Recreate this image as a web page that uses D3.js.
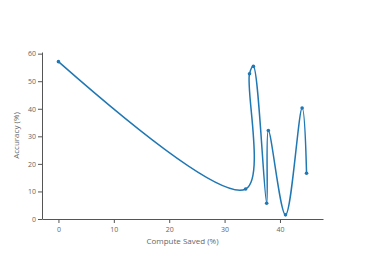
<!DOCTYPE html>
<html>
<head>
<meta charset="utf-8">
<script src="https://cdn.jsdelivr.net/npm/d3@7"></script>
<style>
  body { margin: 0; background: #fff; }
  text { font-family: "Open Sans", verdana, arial, sans-serif; fill: #666; }
</style>
</head>
<body>
<div id="chart"></div>
<script>
// data
const computeSaved = [0, 33.8, 34.5, 35.2, 37.6, 37.9, 41.0, 44.0, 44.8]
const accuracy = [57.1, 10.9, 52.7, 55.4, 5.7, 32.1, 1.5, 40.3, 16.6]
const xTicks = [0, 10, 20, 30, 40]
const yTicks = [0, 10, 20, 30, 40, 50, 60]

const width = 366, height = 261
const margin = {left: 42, right: 43, top: 52, bottom: 42}

const svg = d3.select("#chart")
  .append("svg")
    .attr("width", width)
    .attr("height", height)

const x = d3.scaleLinear()
  .domain([-2.97, 47.77])
  .range([margin.left, width - margin.right])

const y = d3.scaleLinear()
  .domain([0, 60.6])
  .range([height - margin.bottom, margin.top])

// axes
const xAxis = svg.append("g")
  .attr("transform", `translate(0,${height - margin.bottom})`)
  .call(d3.axisBottom(x).tickValues(xTicks).tickSize(4).tickPadding(4).tickSizeOuter(0))
const yAxis = svg.append("g")
  .attr("transform", `translate(${margin.left},0)`)
  .call(d3.axisLeft(y).tickValues(yTicks).tickSize(4).tickPadding(2).tickSizeOuter(0))

;[xAxis, yAxis].forEach(a => {
  a.select(".domain").attr("stroke", "#555").attr("stroke-width", 1)
  a.selectAll(".tick line").attr("stroke", "#555")
  a.selectAll(".tick text").style("font-size", "7px").attr("fill", "#666")
})

// axis titles
svg.append("text")
  .attr("x", (margin.left + width - margin.right) / 2)
  .attr("y", 244)
  .attr("text-anchor", "middle")
  .style("font-size", "8px")
  .text("Compute Saved (%)")

svg.append("text")
  .attr("transform", `translate(19,${(margin.top + height - margin.bottom) / 2}) rotate(-90)`)
  .attr("text-anchor", "middle")
  .style("font-size", "8px")
  .text("Accuracy (%)")

// spline like plotly's smoothing (centripetal catmull-rom, quadratic ends)
const pts = computeSaved.map((d, i) => [x(d), y(accuracy[i])])

function tangent(p0, p1, p2) {
  const d1x = p0[0] - p1[0], d1y = p0[1] - p1[1]
  const d2x = p2[0] - p1[0], d2y = p2[1] - p1[1]
  const d1a = Math.pow(d1x * d1x + d1y * d1y, 0.25)
  const d2a = Math.pow(d2x * d2x + d2y * d2y, 0.25)
  const numx = d2a * d2a * d1x - d1a * d1a * d2x
  const numy = d2a * d2a * d1y - d1a * d1a * d2y
  const den1 = 3 * d2a * (d1a + d2a)
  const den2 = 3 * d1a * (d1a + d2a)
  return [
    [p1[0] + numx / den1, p1[1] + numy / den1],
    [p1[0] - numx / den2, p1[1] - numy / den2]
  ]
}

const tans = []
for (let i = 1; i < pts.length - 1; i++) tans.push(tangent(pts[i - 1], pts[i], pts[i + 1]))

const path = d3.path()
path.moveTo(...pts[0])
path.quadraticCurveTo(...tans[0][0], ...pts[1])
for (let i = 2; i < pts.length - 1; i++) {
  path.bezierCurveTo(...tans[i - 2][1], ...tans[i - 1][0], ...pts[i])
}
path.quadraticCurveTo(...tans[pts.length - 3][1], ...pts[pts.length - 1])

svg.append("path")
  .attr("d", path.toString())
  .attr("fill", "none")
  .attr("stroke", "#1f77b4")
  .attr("stroke-width", 1.5)

svg.append("g")
  .selectAll("circle")
  .data(computeSaved)
  .join("circle")
    .attr("cx", d => x(d))
    .attr("cy", (d, i) => y(accuracy[i]))
    .attr("r", 1.8)
    .attr("fill", "#1f77b4")
</script>
</body>
</html>
